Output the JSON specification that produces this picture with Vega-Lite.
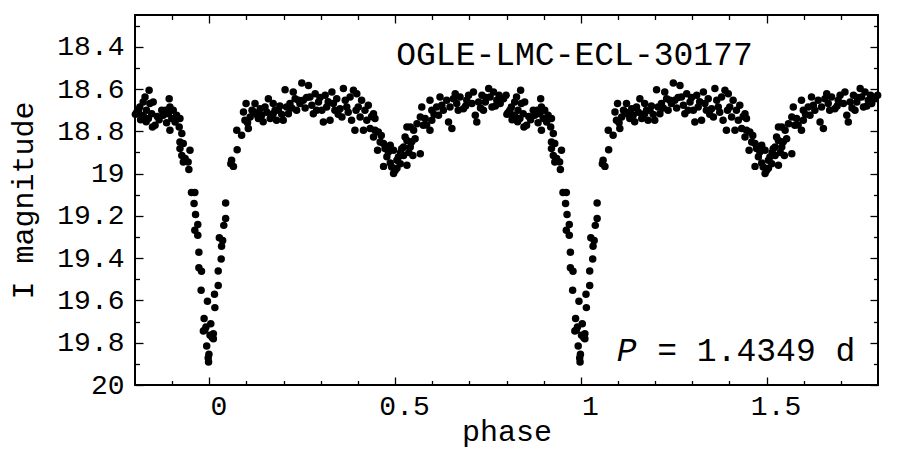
{
"$schema": "https://vega.github.io/schema/vega-lite/v6.json",
"width": 743, "height": 370,
"autosize": {"type": "none"},
"padding": {"left": 135, "top": 15, "right": 22, "bottom": 66},
"background": "white",
"config": {
  "view": {"stroke": "black", "strokeWidth": 2},
  "axis": {"domain": false, "grid": false, "tickColor": "black", "tickWidth": 1.3, "labelFont": "Liberation Mono", "labelFontSize": 28, "labelColor": "black", "titleFont": "Liberation Mono", "titleFontSize": 30, "titleFontWeight": "normal", "titleColor": "black", "labelFlush": false, "labelOverlap": false}
},
"data": {"values": [
{"phase":-0.199,"mag":18.720},{"phase":-0.196,"mag":18.712},{"phase":-0.191,"mag":18.701},{"phase":-0.187,"mag":18.685},{"phase":-0.185,"mag":18.745},{"phase":-0.182,"mag":18.724},{"phase":-0.178,"mag":18.661},{"phase":-0.176,"mag":18.732},{"phase":-0.173,"mag":18.638},{"phase":-0.170,"mag":18.755},{"phase":-0.169,"mag":18.701},{"phase":-0.164,"mag":18.740},{"phase":-0.162,"mag":18.606},{"phase":-0.160,"mag":18.669},{"phase":-0.155,"mag":18.717},{"phase":-0.153,"mag":18.780},{"phase":-0.151,"mag":18.661},{"phase":-0.146,"mag":18.772},{"phase":-0.140,"mag":18.730},{"phase":-0.135,"mag":18.745},{"phase":-0.128,"mag":18.701},{"phase":-0.124,"mag":18.724},{"phase":-0.117,"mag":18.700},{"phase":-0.115,"mag":18.760},{"phase":-0.110,"mag":18.717},{"phase":-0.108,"mag":18.646},{"phase":-0.106,"mag":18.685},{"phase":-0.106,"mag":18.795},{"phase":-0.101,"mag":18.740},{"phase":-0.097,"mag":18.701},{"phase":-0.092,"mag":18.756},{"phase":-0.088,"mag":18.724},{"phase":-0.081,"mag":18.780},{"phase":-0.079,"mag":18.740},{"phase":-0.079,"mag":18.851},{"phase":-0.079,"mag":18.882},{"phase":-0.074,"mag":18.811},{"phase":-0.074,"mag":18.914},{"phase":-0.070,"mag":18.858},{"phase":-0.070,"mag":18.945},{"phase":-0.065,"mag":18.929},{"phase":-0.057,"mag":18.945},{"phase":-0.055,"mag":18.981},{"phase":-0.052,"mag":18.890},
{"phase":-0.048,"mag":19.090},{"phase":-0.039,"mag":19.090},{"phase":-0.041,"mag":19.142},{"phase":-0.037,"mag":19.194},{"phase":-0.031,"mag":19.241},{"phase":-0.039,"mag":19.268},{"phase":-0.031,"mag":19.292},{"phase":-0.028,"mag":19.372},{"phase":-0.028,"mag":19.445},{"phase":-0.021,"mag":19.462},{"phase":-0.022,"mag":19.552},{"phase":-0.005,"mag":19.604},{"phase":-0.014,"mag":19.686},{"phase":-0.009,"mag":19.726},{"phase":-0.016,"mag":19.745},{"phase":0.004,"mag":19.710},{"phase":0.002,"mag":19.765},{"phase":0.011,"mag":19.757},{"phase":0.011,"mag":19.781},{"phase":-0.007,"mag":19.816},{"phase":-0.001,"mag":19.855},{"phase":-0.002,"mag":19.891},{"phase":0.044,"mag":19.139},{"phase":0.044,"mag":19.213},{"phase":0.039,"mag":19.245},{"phase":0.027,"mag":19.303},{"phase":0.036,"mag":19.316},{"phase":0.033,"mag":19.344},{"phase":0.032,"mag":19.404},{"phase":0.024,"mag":19.461},{"phase":0.024,"mag":19.529},{"phase":0.014,"mag":19.571},{"phase":0.015,"mag":19.634},{"phase":-0.012,"mag":19.740},{"phase":0.008,"mag":19.775},{"phase":-0.003,"mag":19.872},
{"phase":0.060,"mag":18.937},{"phase":0.058,"mag":18.953},{"phase":0.065,"mag":18.966},{"phase":0.075,"mag":18.887},{"phase":0.074,"mag":18.795},{"phase":0.087,"mag":18.819},{"phase":0.096,"mag":18.748},{"phase":0.092,"mag":18.709},{"phase":0.099,"mag":18.669},{"phase":0.105,"mag":18.787},{"phase":0.110,"mag":18.732},{"phase":0.123,"mag":18.669},{"phase":0.120,"mag":18.709},{"phase":0.132,"mag":18.740},{"phase":0.137,"mag":18.693},{"phase":0.141,"mag":18.724},{"phase":0.150,"mag":18.685},{"phase":0.159,"mag":18.646},{"phase":0.164,"mag":18.740},{"phase":0.172,"mag":18.717},{"phase":0.172,"mag":18.669},{"phase":0.181,"mag":18.748},{"phase":0.186,"mag":18.701},{"phase":0.199,"mag":18.748},{"phase":0.204,"mag":18.603},{"phase":0.208,"mag":18.685},{"phase":0.213,"mag":18.717},{"phase":0.217,"mag":18.669},{"phase":0.226,"mag":18.614},{"phase":0.231,"mag":18.646},{"phase":0.235,"mag":18.701},{"phase":0.240,"mag":18.653},{"phase":0.244,"mag":18.669},{"phase":0.249,"mag":18.572},{"phase":0.253,"mag":18.653},{"phase":0.267,"mag":18.583},{"phase":0.271,"mag":18.638},{"phase":0.276,"mag":18.677},{"phase":0.280,"mag":18.717},{"phase":0.285,"mag":18.622},{"phase":0.289,"mag":18.701},{"phase":0.294,"mag":18.661},{"phase":0.307,"mag":18.756},{"phase":0.312,"mag":18.630},{"phase":0.316,"mag":18.685},{"phase":0.325,"mag":18.748},{"phase":0.330,"mag":18.614},{"phase":0.334,"mag":18.669},{"phase":0.343,"mag":18.646},{"phase":0.352,"mag":18.693},{"phase":0.357,"mag":18.732},{"phase":0.361,"mag":18.598},{"phase":0.366,"mag":18.653},{"phase":0.370,"mag":18.685},{"phase":0.379,"mag":18.638},{"phase":0.383,"mag":18.748},{"phase":0.388,"mag":18.606},{"phase":0.392,"mag":18.795},{"phase":0.397,"mag":18.622},{"phase":0.401,"mag":18.685},{"phase":0.406,"mag":18.732},{"phase":0.410,"mag":18.653},{"phase":0.415,"mag":18.795},{"phase":0.419,"mag":18.701},{"phase":0.424,"mag":18.748},{"phase":0.428,"mag":18.677},{"phase":0.433,"mag":18.787},
{"phase":0.103,"mag":18.760},{"phase":0.115,"mag":18.700},{"phase":0.127,"mag":18.720},{"phase":0.145,"mag":18.755},{"phase":0.155,"mag":18.710},{"phase":0.168,"mag":18.730},{"phase":0.177,"mag":18.700},{"phase":0.190,"mag":18.680},{"phase":0.195,"mag":18.720},{"phase":0.222,"mag":18.690},{"phase":0.258,"mag":18.690},{"phase":0.262,"mag":18.640},{"phase":0.298,"mag":18.640},{"phase":0.303,"mag":18.700},{"phase":0.320,"mag":18.660},{"phase":0.338,"mag":18.700},{"phase":0.347,"mag":18.720},{"phase":0.374,"mag":18.710},{"phase":0.395,"mag":18.700},{"phase":0.437,"mag":18.730},
{"phase":0.442,"mag":18.717},{"phase":0.446,"mag":18.740},{"phase":0.446,"mag":18.795},{"phase":0.455,"mag":18.803},{"phase":0.442,"mag":18.827},{"phase":0.460,"mag":18.851},{"phase":0.453,"mag":18.890},{"phase":0.469,"mag":18.858},{"phase":0.473,"mag":18.882},{"phase":0.487,"mag":18.866},{"phase":0.482,"mag":18.898},{"phase":0.496,"mag":18.890},{"phase":0.469,"mag":18.966},{"phase":0.491,"mag":18.969},{"phase":0.496,"mag":19.000},{"phase":0.500,"mag":18.985},{"phase":0.505,"mag":18.937},{"phase":0.509,"mag":18.922},{"phase":0.514,"mag":18.953},{"phase":0.523,"mag":18.914},{"phase":0.523,"mag":18.874},{"phase":0.532,"mag":18.961},{"phase":0.518,"mag":18.882},{"phase":0.532,"mag":18.843},{"phase":0.527,"mag":18.827},{"phase":0.541,"mag":18.874},{"phase":0.548,"mag":18.914},{"phase":0.568,"mag":18.906},{"phase":0.532,"mag":18.780},{"phase":0.541,"mag":18.780},{"phase":0.550,"mag":18.795},{"phase":0.554,"mag":18.835},{"phase":0.559,"mag":18.764},{"phase":0.568,"mag":18.732},{"phase":0.572,"mag":18.685},{"phase":0.576,"mag":18.772},{"phase":0.581,"mag":18.740},{"phase":0.594,"mag":18.795},{"phase":0.599,"mag":18.748},{"phase":0.594,"mag":18.653},{"phase":0.599,"mag":18.701},{"phase":0.612,"mag":18.685},{"phase":0.617,"mag":18.724},{"phase":0.621,"mag":18.638},{"phase":0.626,"mag":18.677},{"phase":0.639,"mag":18.653},{"phase":0.644,"mag":18.756},{"phase":0.653,"mag":18.787},{"phase":0.648,"mag":18.685},{"phase":0.657,"mag":18.646},{"phase":0.662,"mag":18.622},{"phase":0.666,"mag":18.669},{"phase":0.675,"mag":18.638},{"phase":0.684,"mag":18.693},{"phase":0.693,"mag":18.653},{"phase":0.698,"mag":18.630},{"phase":0.707,"mag":18.669},{"phase":0.711,"mag":18.614},{"phase":0.716,"mag":18.724},{"phase":0.720,"mag":18.756},{"phase":0.725,"mag":18.661},{"phase":0.734,"mag":18.630},{"phase":0.738,"mag":18.701},{"phase":0.743,"mag":18.661},{"phase":0.752,"mag":18.598},{"phase":0.756,"mag":18.638},{"phase":0.761,"mag":18.685},{"phase":0.765,"mag":18.614},{"phase":0.774,"mag":18.653},{"phase":0.783,"mag":18.669},{"phase":0.792,"mag":18.646},{"phase":0.799,"mag":18.630},
{"phase":0.478,"mag":18.920},{"phase":0.487,"mag":18.950},{"phase":0.505,"mag":18.975},{"phase":0.515,"mag":18.900},{"phase":0.537,"mag":18.900},{"phase":0.545,"mag":18.850},{"phase":0.463,"mag":18.820},{"phase":0.585,"mag":18.770},{"phase":0.605,"mag":18.720},{"phase":0.630,"mag":18.700},{"phase":0.670,"mag":18.700},{"phase":0.690,"mag":18.680},{"phase":0.730,"mag":18.690},{"phase":0.770,"mag":18.680},{"phase":0.745,"mag":18.640},{"phase":0.780,"mag":18.630},
{"phase":0.801,"mag":18.720},{"phase":0.804,"mag":18.712},{"phase":0.809,"mag":18.701},{"phase":0.813,"mag":18.685},{"phase":0.815,"mag":18.745},{"phase":0.818,"mag":18.724},{"phase":0.822,"mag":18.661},{"phase":0.824,"mag":18.732},{"phase":0.827,"mag":18.638},{"phase":0.830,"mag":18.755},{"phase":0.831,"mag":18.701},{"phase":0.836,"mag":18.740},{"phase":0.838,"mag":18.606},{"phase":0.840,"mag":18.669},{"phase":0.845,"mag":18.717},{"phase":0.847,"mag":18.780},{"phase":0.849,"mag":18.661},{"phase":0.854,"mag":18.772},{"phase":0.860,"mag":18.730},{"phase":0.865,"mag":18.745},{"phase":0.872,"mag":18.701},{"phase":0.876,"mag":18.724},{"phase":0.883,"mag":18.700},{"phase":0.885,"mag":18.760},{"phase":0.890,"mag":18.717},{"phase":0.892,"mag":18.646},{"phase":0.894,"mag":18.685},{"phase":0.894,"mag":18.795},{"phase":0.899,"mag":18.740},{"phase":0.903,"mag":18.701},{"phase":0.908,"mag":18.756},{"phase":0.912,"mag":18.724},{"phase":0.919,"mag":18.780},{"phase":0.921,"mag":18.740},{"phase":0.921,"mag":18.851},{"phase":0.921,"mag":18.882},{"phase":0.926,"mag":18.811},{"phase":0.926,"mag":18.914},{"phase":0.930,"mag":18.858},{"phase":0.930,"mag":18.945},{"phase":0.935,"mag":18.929},{"phase":0.943,"mag":18.945},{"phase":0.945,"mag":18.981},{"phase":0.948,"mag":18.890},
{"phase":0.952,"mag":19.090},{"phase":0.961,"mag":19.090},{"phase":0.959,"mag":19.142},{"phase":0.963,"mag":19.194},{"phase":0.969,"mag":19.241},{"phase":0.961,"mag":19.268},{"phase":0.969,"mag":19.292},{"phase":0.972,"mag":19.372},{"phase":0.972,"mag":19.445},{"phase":0.979,"mag":19.462},{"phase":0.978,"mag":19.552},{"phase":0.995,"mag":19.604},{"phase":0.986,"mag":19.686},{"phase":0.991,"mag":19.726},{"phase":0.984,"mag":19.745},{"phase":1.004,"mag":19.710},{"phase":1.002,"mag":19.765},{"phase":1.011,"mag":19.757},{"phase":1.011,"mag":19.781},{"phase":0.993,"mag":19.816},{"phase":0.999,"mag":19.855},{"phase":0.998,"mag":19.891},{"phase":1.044,"mag":19.139},{"phase":1.044,"mag":19.213},{"phase":1.039,"mag":19.245},{"phase":1.027,"mag":19.303},{"phase":1.036,"mag":19.316},{"phase":1.033,"mag":19.344},{"phase":1.032,"mag":19.404},{"phase":1.024,"mag":19.461},{"phase":1.024,"mag":19.529},{"phase":1.014,"mag":19.571},{"phase":1.015,"mag":19.634},{"phase":0.988,"mag":19.740},{"phase":1.008,"mag":19.775},{"phase":0.997,"mag":19.872},
{"phase":1.060,"mag":18.937},{"phase":1.058,"mag":18.953},{"phase":1.065,"mag":18.966},{"phase":1.075,"mag":18.887},{"phase":1.074,"mag":18.795},{"phase":1.087,"mag":18.819},{"phase":1.096,"mag":18.748},{"phase":1.092,"mag":18.709},{"phase":1.099,"mag":18.669},{"phase":1.105,"mag":18.787},{"phase":1.110,"mag":18.732},{"phase":1.123,"mag":18.669},{"phase":1.120,"mag":18.709},{"phase":1.132,"mag":18.740},{"phase":1.137,"mag":18.693},{"phase":1.141,"mag":18.724},{"phase":1.150,"mag":18.685},{"phase":1.159,"mag":18.646},{"phase":1.164,"mag":18.740},{"phase":1.172,"mag":18.717},{"phase":1.172,"mag":18.669},{"phase":1.181,"mag":18.748},{"phase":1.186,"mag":18.701},{"phase":1.199,"mag":18.748},{"phase":1.204,"mag":18.603},{"phase":1.208,"mag":18.685},{"phase":1.213,"mag":18.717},{"phase":1.217,"mag":18.669},{"phase":1.226,"mag":18.614},{"phase":1.231,"mag":18.646},{"phase":1.235,"mag":18.701},{"phase":1.240,"mag":18.653},{"phase":1.244,"mag":18.669},{"phase":1.249,"mag":18.572},{"phase":1.253,"mag":18.653},{"phase":1.267,"mag":18.583},{"phase":1.271,"mag":18.638},{"phase":1.276,"mag":18.677},{"phase":1.280,"mag":18.717},{"phase":1.285,"mag":18.622},{"phase":1.289,"mag":18.701},{"phase":1.294,"mag":18.661},{"phase":1.307,"mag":18.756},{"phase":1.312,"mag":18.630},{"phase":1.316,"mag":18.685},{"phase":1.325,"mag":18.748},{"phase":1.330,"mag":18.614},{"phase":1.334,"mag":18.669},{"phase":1.343,"mag":18.646},{"phase":1.352,"mag":18.693},{"phase":1.357,"mag":18.732},{"phase":1.361,"mag":18.598},{"phase":1.366,"mag":18.653},{"phase":1.370,"mag":18.685},{"phase":1.379,"mag":18.638},{"phase":1.383,"mag":18.748},{"phase":1.388,"mag":18.606},{"phase":1.392,"mag":18.795},{"phase":1.397,"mag":18.622},{"phase":1.401,"mag":18.685},{"phase":1.406,"mag":18.732},{"phase":1.410,"mag":18.653},{"phase":1.415,"mag":18.795},{"phase":1.419,"mag":18.701},{"phase":1.424,"mag":18.748},{"phase":1.428,"mag":18.677},{"phase":1.433,"mag":18.787},
{"phase":1.103,"mag":18.760},{"phase":1.115,"mag":18.700},{"phase":1.127,"mag":18.720},{"phase":1.145,"mag":18.755},{"phase":1.155,"mag":18.710},{"phase":1.168,"mag":18.730},{"phase":1.177,"mag":18.700},{"phase":1.190,"mag":18.680},{"phase":1.195,"mag":18.720},{"phase":1.222,"mag":18.690},{"phase":1.258,"mag":18.690},{"phase":1.262,"mag":18.640},{"phase":1.298,"mag":18.640},{"phase":1.303,"mag":18.700},{"phase":1.320,"mag":18.660},{"phase":1.338,"mag":18.700},{"phase":1.347,"mag":18.720},{"phase":1.374,"mag":18.710},{"phase":1.395,"mag":18.700},{"phase":1.437,"mag":18.730},
{"phase":1.442,"mag":18.717},{"phase":1.446,"mag":18.740},{"phase":1.446,"mag":18.795},{"phase":1.455,"mag":18.803},{"phase":1.442,"mag":18.827},{"phase":1.460,"mag":18.851},{"phase":1.453,"mag":18.890},{"phase":1.469,"mag":18.858},{"phase":1.473,"mag":18.882},{"phase":1.487,"mag":18.866},{"phase":1.482,"mag":18.898},{"phase":1.496,"mag":18.890},{"phase":1.469,"mag":18.966},{"phase":1.491,"mag":18.969},{"phase":1.496,"mag":19.000},{"phase":1.500,"mag":18.985},{"phase":1.505,"mag":18.937},{"phase":1.509,"mag":18.922},{"phase":1.514,"mag":18.953},{"phase":1.523,"mag":18.914},{"phase":1.523,"mag":18.874},{"phase":1.532,"mag":18.961},{"phase":1.518,"mag":18.882},{"phase":1.532,"mag":18.843},{"phase":1.527,"mag":18.827},{"phase":1.541,"mag":18.874},{"phase":1.548,"mag":18.914},{"phase":1.568,"mag":18.906},{"phase":1.532,"mag":18.780},{"phase":1.541,"mag":18.780},{"phase":1.550,"mag":18.795},{"phase":1.554,"mag":18.835},{"phase":1.559,"mag":18.764},{"phase":1.568,"mag":18.732},{"phase":1.572,"mag":18.685},{"phase":1.576,"mag":18.772},{"phase":1.581,"mag":18.740},{"phase":1.594,"mag":18.795},{"phase":1.599,"mag":18.748},{"phase":1.594,"mag":18.653},{"phase":1.599,"mag":18.701},{"phase":1.612,"mag":18.685},{"phase":1.617,"mag":18.724},{"phase":1.621,"mag":18.638},{"phase":1.626,"mag":18.677},{"phase":1.639,"mag":18.653},{"phase":1.644,"mag":18.756},{"phase":1.653,"mag":18.787},{"phase":1.648,"mag":18.685},{"phase":1.657,"mag":18.646},{"phase":1.662,"mag":18.622},{"phase":1.666,"mag":18.669},{"phase":1.675,"mag":18.638},{"phase":1.684,"mag":18.693},{"phase":1.693,"mag":18.653},{"phase":1.698,"mag":18.630},{"phase":1.707,"mag":18.669},{"phase":1.711,"mag":18.614},{"phase":1.716,"mag":18.724},{"phase":1.720,"mag":18.756},{"phase":1.725,"mag":18.661},{"phase":1.734,"mag":18.630},{"phase":1.738,"mag":18.701},{"phase":1.743,"mag":18.661},{"phase":1.752,"mag":18.598},{"phase":1.756,"mag":18.638},{"phase":1.761,"mag":18.685},{"phase":1.765,"mag":18.614},{"phase":1.774,"mag":18.653},{"phase":1.783,"mag":18.669},{"phase":1.792,"mag":18.646},{"phase":1.799,"mag":18.630},
{"phase":1.478,"mag":18.920},{"phase":1.487,"mag":18.950},{"phase":1.505,"mag":18.975},{"phase":1.515,"mag":18.900},{"phase":1.537,"mag":18.900},{"phase":1.545,"mag":18.850},{"phase":1.463,"mag":18.820},{"phase":1.585,"mag":18.770},{"phase":1.605,"mag":18.720},{"phase":1.630,"mag":18.700},{"phase":1.670,"mag":18.700},{"phase":1.690,"mag":18.680},{"phase":1.730,"mag":18.690},{"phase":1.770,"mag":18.680},{"phase":1.745,"mag":18.640},{"phase":1.780,"mag":18.630}
]},
"resolve": {"axis": {"x": "independent", "y": "independent"}},
"layer": [
  {
    "mark": {"type": "circle", "size": 56, "color": "black", "opacity": 1},
    "encoding": {
      "x": {"field": "phase", "type": "quantitative", "scale": {"domain": [-0.2, 1.8], "nice": false, "zero": false},
            "axis": {"orient": "bottom", "values": [0, 0.5, 1, 1.5], "format": "~g", "tickSize": -8, "labelPadding": 15, "labelOffset": 9, "title": "phase", "titlePadding": -4}},
      "y": {"field": "mag", "type": "quantitative", "scale": {"domain": [18.25, 20], "reverse": true, "nice": false, "zero": false},
            "axis": {"orient": "left", "values": [18.4, 18.6, 18.8, 19, 19.2, 19.4, 19.6, 19.8, 20], "format": "~g", "tickSize": -8, "labelPadding": 19, "labelBaseline": "middle", "title": "I magnitude", "titlePadding": 18}}
    }
  },
  {
    "mark": {"type": "point", "opacity": 0},
    "encoding": {
      "x": {"field": "phase", "type": "quantitative", "axis": {"orient": "bottom", "values": [-0.1, 0.1, 0.2, 0.3, 0.4, 0.6, 0.7, 0.8, 0.9, 1.1, 1.2, 1.3, 1.4, 1.6, 1.7], "tickSize": -4.5, "labels": false, "title": null}},
      "y": {"field": "mag", "type": "quantitative", "axis": {"orient": "left", "values": [18.3, 18.5, 18.7, 18.9, 19.1, 19.3, 19.5, 19.7, 19.9], "tickSize": -4.5, "labels": false, "title": null}}
    }
  },
  {
    "mark": {"type": "point", "opacity": 0},
    "encoding": {
      "x": {"field": "phase", "type": "quantitative", "axis": {"orient": "top", "values": [0, 0.5, 1, 1.5], "tickSize": -8, "labels": false, "title": null}},
      "y": {"field": "mag", "type": "quantitative", "axis": {"orient": "right", "values": [18.4, 18.6, 18.8, 19, 19.2, 19.4, 19.6, 19.8, 20], "tickSize": -8, "labels": false, "title": null}}
    }
  },
  {
    "mark": {"type": "point", "opacity": 0},
    "encoding": {
      "x": {"field": "phase", "type": "quantitative", "axis": {"orient": "top", "values": [-0.1, 0.1, 0.2, 0.3, 0.4, 0.6, 0.7, 0.8, 0.9, 1.1, 1.2, 1.3, 1.4, 1.6, 1.7], "tickSize": -4.5, "labels": false, "title": null}},
      "y": {"field": "mag", "type": "quantitative", "axis": {"orient": "right", "values": [18.3, 18.5, 18.7, 18.9, 19.1, 19.3, 19.5, 19.7, 19.9], "tickSize": -4.5, "labels": false, "title": null}}
    }
  },
  {
    "data": {"values": [{"label": "OGLE-LMC-ECL-30177"}]},
    "mark": {"type": "text", "font": "Liberation Mono", "fontSize": 33, "align": "center", "baseline": "alphabetic", "color": "black"},
    "encoding": {
      "text": {"field": "label"},
      "x": {"datum": 0.983, "type": "quantitative", "axis": null},
      "y": {"datum": 18.488, "type": "quantitative", "axis": null}
    }
  },
  {
    "data": {"values": [{"label": "P"}]},
    "mark": {"type": "text", "font": "Liberation Mono", "fontSize": 33, "fontStyle": "italic", "align": "left", "baseline": "alphabetic", "color": "black"},
    "encoding": {
      "text": {"field": "label"},
      "x": {"datum": 1.097, "type": "quantitative", "axis": null},
      "y": {"datum": 19.887, "type": "quantitative", "axis": null}
    }
  },
  {
    "data": {"values": [{"label": "= 1.4349 d"}]},
    "mark": {"type": "text", "font": "Liberation Mono", "fontSize": 33, "align": "left", "baseline": "alphabetic", "color": "black"},
    "encoding": {
      "text": {"field": "label"},
      "x": {"datum": 1.2058, "type": "quantitative", "axis": null},
      "y": {"datum": 19.887, "type": "quantitative", "axis": null}
    }
  }
]
}
